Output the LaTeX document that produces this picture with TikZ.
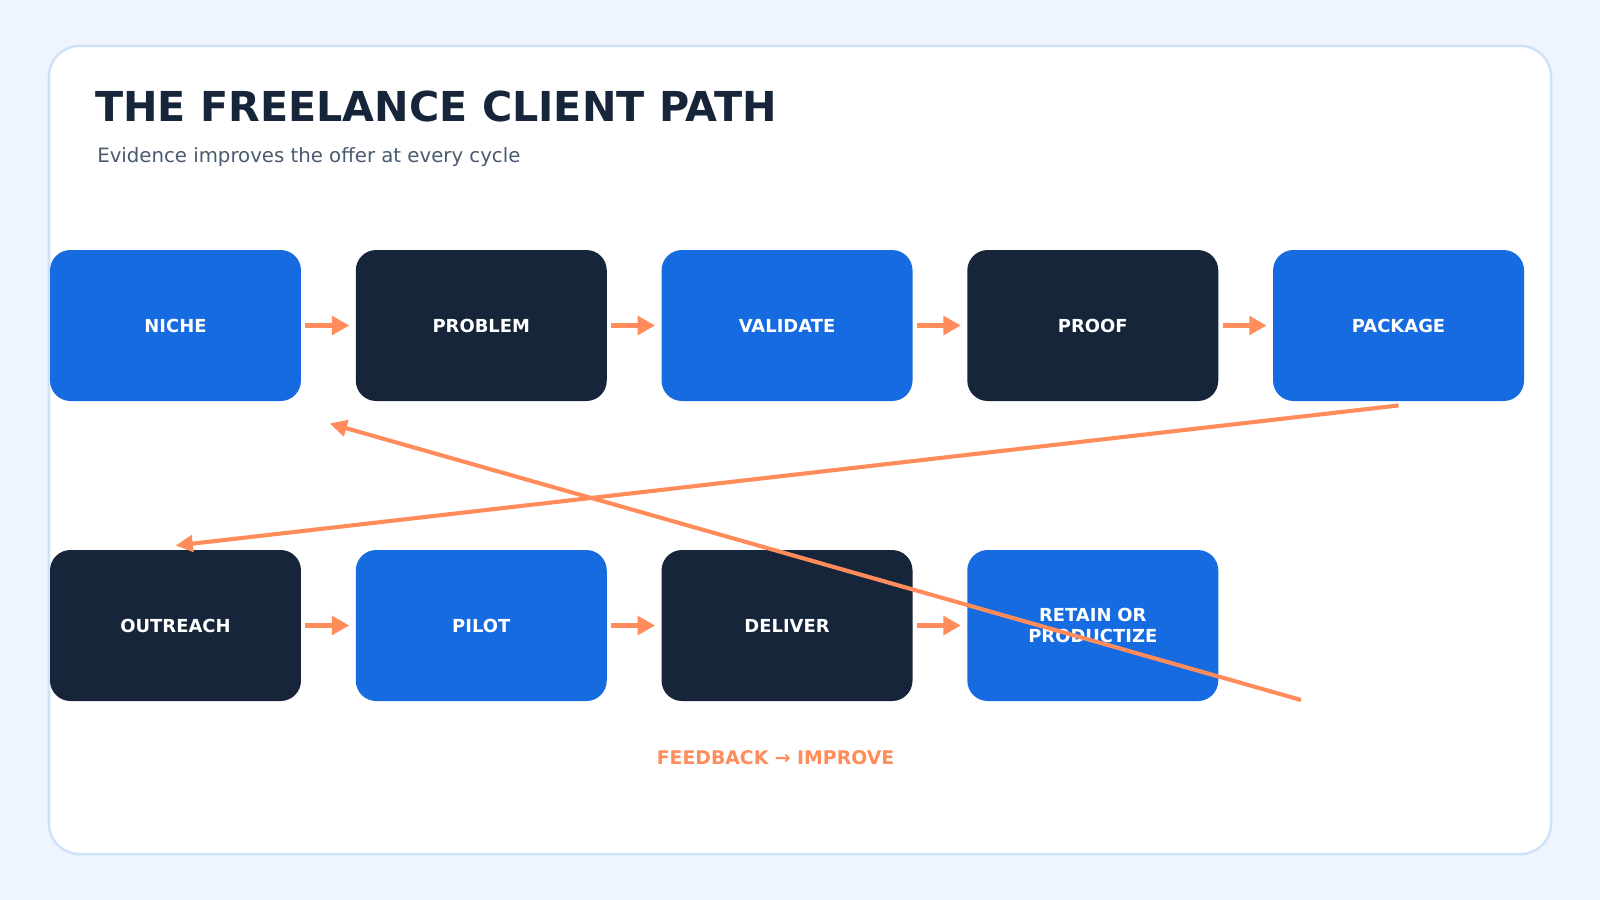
\documentclass[tikz,border=0pt]{standalone}
\usepackage{fontspec}
\setmainfont{DejaVu Sans}
\usepackage{tikz}
\usetikzlibrary{arrows.meta,positioning}
\definecolor{pagebg}{HTML}{EEF5FE}
\definecolor{cardline}{HTML}{CFE2F8}
\definecolor{stepblue}{HTML}{176BE0}
\definecolor{stepdark}{HTML}{16253A}
\definecolor{flow}{HTML}{FF8C5A}
\definecolor{subgray}{HTML}{4A5A70}

\begin{document}
\begin{tikzpicture}[
    x=0.02cm, y=-0.02cm,
    stage/.style={rectangle, rounded corners=0.4cm, minimum width=4.92cm, minimum height=2.96cm,
        text width=4.2cm, align=center, text=white, font=\fontsize{10}{12}\selectfont\bfseries, inner sep=0pt},
    bluestage/.style={stage, fill=stepblue},
    darkstage/.style={stage, fill=stepdark},
    arrow/.style={-{Triangle[length=0.34cm,width=0.36cm]}, flow, line width=0.1cm, shorten <=0.08cm, shorten >=0.12cm},
    loop/.style={-{Triangle[length=0.34cm,width=0.32cm]}, flow, line width=0.08cm},
    node distance=1.06cm
]
    \fill[pagebg] (0,0) rectangle (1568,882);
    \useasboundingbox (0,0) rectangle (1568,882);
    \draw[cardline, fill=white, line width=0.05cm, rounded corners=0.6cm] (48,45) rectangle (1520,837);

    \node[anchor=base west, inner sep=0pt, text=stepdark, font=\fontsize{23}{28}\selectfont\bfseries] (title) at (93,119) {THE FREELANCE CLIENT PATH};
    \node[anchor=base west, inner sep=0pt, text=subgray, font=\fontsize{11}{13}\selectfont] (sub) at (95,159) {Evidence improves the offer at every cycle};

    \node[bluestage] (niche) at (172,319) {NICHE};
    \node[darkstage, right=of niche] (problem) {PROBLEM};
    \node[bluestage, right=of problem] (validate) {VALIDATE};
    \node[darkstage, right=of validate] (proof) {PROOF};
    \node[bluestage, right=of proof] (package) {PACKAGE};

    \node[darkstage] (outreach) at (172,613) {OUTREACH};
    \node[bluestage, right=of outreach] (pilot) {PILOT};
    \node[darkstage, right=of pilot] (deliver) {DELIVER};
    \node[bluestage, right=of deliver] (retain) {RETAIN OR\\PRODUCTIZE};

    \draw[arrow] (niche) -- (problem);
    \draw[arrow] (problem) -- (validate);
    \draw[arrow] (validate) -- (proof);
    \draw[arrow] (proof) -- (package);
    \draw[arrow] (outreach) -- (pilot);
    \draw[arrow] (pilot) -- (deliver);
    \draw[arrow] (deliver) -- (retain);

    % long returns
    \coordinate (back) at (1275,686);
    \coordinate (again) at (323,415);
    \draw[loop] ([yshift=-0.08cm]package.south) -- ([yshift=0.08cm]outreach.north);
    \draw[loop] (back) -- (again);

    \node[text=flow, font=\fontsize{10.5}{12}\selectfont\bfseries] (feedback) at (760,742) {FEEDBACK → IMPROVE};
\end{tikzpicture}
\end{document}
